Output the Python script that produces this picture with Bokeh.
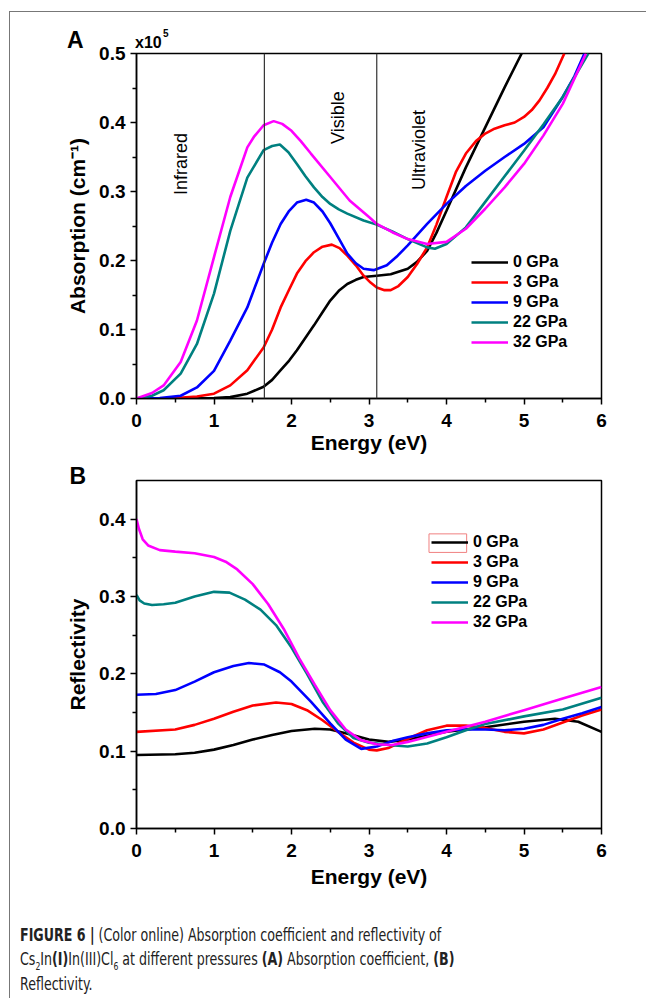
import math
from bokeh.plotting import figure
from bokeh.models import (Span, Label, Legend, LegendItem, FixedTicker,
                          PrintfTickFormatter, Div, BoxAnnotation, Range1d, Title)
from bokeh.layouts import column
from bokeh.embed import file_html
from bokeh.resources import INLINE

# ---------------- data: (A) absorption, units of 1e5 cm^-1 ----------------
pressures = ["0 GPa", "3 GPa", "9 GPa", "22 GPa", "32 GPa"]
colors = ["#000000", "#FF0000", "#0000FF", "#008080", "#FF00FF"]

abs_e_0 = [0, 0.5, 0.8, 1.0, 1.21, 1.43, 1.64, 1.75, 1.86, 1.97, 2.07, 2.18, 2.29, 2.4, 2.5, 2.61, 2.72, 2.83, 2.93, 3.1, 3.28, 3.5, 3.62, 3.75, 3.87, 4.0, 4.25, 4.5, 4.75, 4.97]
abs_0 = [0, 0, 0.0002, 0.0005, 0.002, 0.007, 0.017, 0.027, 0.041, 0.055, 0.07, 0.088, 0.106, 0.125, 0.142, 0.156, 0.166, 0.172, 0.176, 0.178, 0.18, 0.188, 0.198, 0.214, 0.24, 0.272, 0.335, 0.393, 0.451, 0.5]

abs_e_3 = [0, 0.5, 0.78, 1.0, 1.21, 1.43, 1.64, 1.75, 1.86, 1.97, 2.07, 2.18, 2.29, 2.4, 2.52, 2.62, 2.72, 2.83, 2.93, 3.02, 3.1, 3.2, 3.28, 3.38, 3.5, 3.62, 3.75, 3.87, 4.0, 4.12, 4.25, 4.38, 4.5, 4.62, 4.75, 4.88, 5.0, 5.1, 5.2, 5.3, 5.4, 5.52]
abs_3 = [0, 0.0005, 0.003, 0.007, 0.019, 0.041, 0.074, 0.1, 0.132, 0.158, 0.181, 0.199, 0.212, 0.22, 0.223, 0.218, 0.207, 0.193, 0.178, 0.168, 0.161, 0.157, 0.157, 0.163, 0.176, 0.195, 0.219, 0.252, 0.292, 0.328, 0.355, 0.373, 0.384, 0.391, 0.396, 0.4, 0.408, 0.418, 0.432, 0.45, 0.47, 0.5]

abs_e_9 = [0, 0.3, 0.57, 0.78, 1.0, 1.21, 1.43, 1.64, 1.75, 1.86, 1.97, 2.07, 2.19, 2.29, 2.4, 2.5, 2.61, 2.72, 2.83, 2.93, 3.06, 3.23, 3.37, 3.5, 3.75, 4.0, 4.25, 4.5, 4.75, 5.0, 5.25, 5.5, 5.65, 5.78]
abs_9 = [0, 0.0005, 0.004, 0.016, 0.04, 0.084, 0.132, 0.195, 0.226, 0.253, 0.272, 0.284, 0.288, 0.284, 0.271, 0.254, 0.232, 0.21, 0.196, 0.188, 0.186, 0.193, 0.207, 0.222, 0.253, 0.282, 0.308, 0.33, 0.35, 0.369, 0.393, 0.437, 0.467, 0.5]

abs_e_22 = [0, 0.2, 0.35, 0.57, 0.78, 1.0, 1.21, 1.43, 1.64, 1.75, 1.85, 1.96, 2.07, 2.18, 2.29, 2.4, 2.5, 2.61, 2.72, 2.93, 3.1, 3.3, 3.5, 3.75, 3.85, 4.0, 4.25, 4.5, 4.75, 5.0, 5.25, 5.5, 5.83]
abs_22 = [0, 0.004, 0.012, 0.036, 0.079, 0.152, 0.243, 0.32, 0.36, 0.366, 0.368, 0.357, 0.34, 0.322, 0.306, 0.292, 0.282, 0.274, 0.268, 0.258, 0.252, 0.242, 0.231, 0.219, 0.217, 0.224, 0.248, 0.285, 0.322, 0.359, 0.397, 0.437, 0.5]

abs_e_32 = [0, 0.2, 0.35, 0.57, 0.78, 1.0, 1.21, 1.43, 1.52, 1.64, 1.77, 1.88, 2.0, 2.12, 2.25, 2.5, 2.75, 3.0, 3.1, 3.3, 3.5, 3.75, 4.0, 4.25, 4.5, 4.75, 5.0, 5.25, 5.5, 5.8]
abs_32 = [0, 0.008, 0.019, 0.053, 0.113, 0.205, 0.292, 0.364, 0.38, 0.396, 0.402, 0.398, 0.388, 0.373, 0.355, 0.321, 0.287, 0.263, 0.253, 0.241, 0.231, 0.224, 0.227, 0.246, 0.275, 0.306, 0.34, 0.381, 0.427, 0.5]

# ---------------- data: (B) reflectivity ----------------
ref_e_0 = [0, 0.5, 0.75, 1.0, 1.25, 1.5, 1.75, 2.0, 2.3, 2.5, 2.75, 3.0, 3.25, 3.5, 3.75, 4.0, 4.5, 5.0, 5.4, 5.7, 6.0]
ref_0 = [0.095, 0.096, 0.098, 0.102, 0.108, 0.115, 0.121, 0.126, 0.129, 0.128, 0.122, 0.115, 0.112, 0.115, 0.12, 0.125, 0.131, 0.138, 0.142, 0.138, 0.125]

ref_e_3 = [0, 0.5, 0.75, 1.0, 1.25, 1.5, 1.8, 2.0, 2.2, 2.4, 2.6, 2.8, 3.0, 3.1, 3.25, 3.5, 3.75, 4.0, 4.25, 4.5, 4.75, 5.0, 5.25, 5.5, 5.75, 6.0]
ref_3 = [0.125, 0.128, 0.134, 0.142, 0.151, 0.159, 0.163, 0.161, 0.153, 0.14, 0.125, 0.111, 0.102, 0.101, 0.104, 0.116, 0.127, 0.133, 0.133, 0.13, 0.125, 0.123, 0.128, 0.137, 0.146, 0.154]

ref_e_9 = [0, 0.25, 0.5, 0.75, 1.0, 1.25, 1.45, 1.65, 1.85, 2.0, 2.25, 2.5, 2.7, 2.9, 3.1, 3.3, 3.5, 3.75, 4.0, 4.25, 4.5, 4.75, 5.0, 5.25, 5.5, 5.75, 6.0]
ref_9 = [0.173, 0.174, 0.179, 0.19, 0.202, 0.21, 0.214, 0.212, 0.202, 0.19, 0.164, 0.136, 0.115, 0.103, 0.106, 0.113, 0.118, 0.123, 0.127, 0.128, 0.128, 0.127, 0.129, 0.134, 0.142, 0.149, 0.157]

ref_e_22 = [0, 0.04, 0.1, 0.2, 0.35, 0.5, 0.75, 1.0, 1.2, 1.4, 1.6, 1.8, 2.0, 2.2, 2.4, 2.6, 2.8, 3.0, 3.25, 3.5, 3.75, 4.0, 4.25, 4.5, 5.0, 5.5, 6.0]
ref_22 = [0.302, 0.295, 0.291, 0.289, 0.29, 0.292, 0.3, 0.306, 0.305, 0.296, 0.283, 0.263, 0.234, 0.2, 0.164, 0.136, 0.117, 0.111, 0.108, 0.106, 0.11, 0.118, 0.127, 0.135, 0.145, 0.154, 0.169]

ref_e_32 = [0, 0.03, 0.08, 0.15, 0.3, 0.5, 0.75, 1.0, 1.15, 1.3, 1.5, 1.7, 1.9, 2.1, 2.3, 2.5, 2.7, 2.9, 3.1, 3.3, 3.5, 4.0, 4.5, 5.0, 5.5, 6.0]
ref_32 = [0.400, 0.388, 0.374, 0.366, 0.36, 0.358, 0.356, 0.351, 0.345, 0.335, 0.316, 0.29, 0.258, 0.22, 0.186, 0.153, 0.128, 0.114, 0.109, 0.108, 0.112, 0.125, 0.138, 0.153, 0.168, 0.183]

x_ticks = [0, 1, 2, 3, 4, 5, 6]
x_minor = [0.5, 1.5, 2.5, 3.5, 4.5, 5.5]
a_ticks = [0.0, 0.1, 0.2, 0.3, 0.4, 0.5]
a_minor = [0.05, 0.15, 0.25, 0.35, 0.45]
r_ticks = [0.0, 0.1, 0.2, 0.3, 0.4]
r_minor = [0.05, 0.15, 0.25, 0.35]
region_bounds = [1.65, 3.1]
region_names = ["Infrared", "Visible", "Ultraviolet"]

FONT = "Liberation Sans"


def style(p, yticks, yminor, ylabel_standoff, xlabel_standoff):
    p.background_fill_color = "white"
    p.border_fill_color = "white"
    p.outline_line_color = "black"
    p.outline_line_width = 1.5
    p.xgrid.visible = False
    p.ygrid.visible = False
    p.xaxis.ticker = FixedTicker(ticks=x_ticks, minor_ticks=x_minor)
    p.yaxis.ticker = FixedTicker(ticks=yticks, minor_ticks=yminor)
    p.yaxis.formatter = PrintfTickFormatter(format="%.1f")
    for ax in (p.xaxis[0], p.yaxis[0]):
        ax.axis_line_width = 1.5
        ax.axis_line_color = "black"
        ax.major_tick_line_width = 1.5
        ax.minor_tick_line_width = 1.5
        ax.major_tick_line_color = "black"
        ax.minor_tick_line_color = "black"
        ax.major_tick_in = 0
        ax.major_tick_out = 6
        ax.minor_tick_in = 0
        ax.minor_tick_out = 4
        ax.major_label_text_font = FONT
        ax.major_label_text_font_style = "bold"
        ax.major_label_text_font_size = "19px"
        ax.major_label_text_color = "black"
        ax.axis_label_text_font = FONT
        ax.axis_label_text_font_style = "bold"
        ax.axis_label_text_font_size = "21px"
        ax.axis_label_text_color = "black"
    p.xaxis.major_label_standoff = 9
    p.yaxis.axis_label_standoff = ylabel_standoff
    p.xaxis.axis_label_standoff = xlabel_standoff


def make_legend(p, renderers, loc):
    items = [LegendItem(label=lab, renderers=[r]) for lab, r in zip(pressures, renderers)]
    leg = Legend(items=items, location=loc, padding=0, margin=0, spacing=0,
                 glyph_width=37, glyph_height=20, label_height=20, label_standoff=5,
                 label_text_font=FONT, label_text_font_style="bold",
                 label_text_font_size="16px", label_text_color="black",
                 border_line_alpha=0, background_fill_alpha=0)
    p.add_layout(leg)


# ---------------- panel A header (panel letter and axis multiplier) ----------------
header_html = (
    "<div style=\"position:relative; width:636px; height:36px;\">"
    "<div style=\"position:absolute; left:57px; top:16.5px; line-height:23px; "
    "font-family:'Liberation Sans'; font-weight:bold; font-size:23px; color:#000;\">A</div>"
    "<div style=\"position:absolute; left:125px; top:22.5px; line-height:16px; "
    "font-family:'Liberation Sans'; font-weight:bold; font-size:16px; color:#000;\">x10</div>"
    "<div style=\"position:absolute; left:153px; top:17px; line-height:10px; "
    "font-family:'Liberation Sans'; font-weight:bold; font-size:10px; color:#000;\">5</div>"
    "</div>"
)
# the header overlaps the transparent top margin of panel A by 12 px
headA = Div(text=header_html, width=636, height=36, margin=(0, 0, -12, 0))

# ---------------- panel A ----------------
pA = figure(width=636, height=424, output_backend="svg", toolbar_location=None,
            x_range=Range1d(0, 6), y_range=Range1d(0, 0.5),
            min_border_left=126, min_border_right=45, min_border_top=17, min_border_bottom=62,
            x_axis_label="Energy (eV)", y_axis_label="Absorption (cm\u207b\u00b9)")
style(pA, a_ticks, a_minor, 7, 1)
pA.border_fill_alpha = 0

for b in region_bounds:
    pA.add_layout(Span(location=b, dimension="height", line_color="#333333", line_width=1.2))

abs_x = [abs_e_0, abs_e_3, abs_e_9, abs_e_22, abs_e_32]
abs_y = [abs_0, abs_3, abs_9, abs_22, abs_32]
rA = [pA.line(x, y, line_color=c, line_width=2.6) for x, y, c in zip(abs_x, abs_y, colors)]

for name, (lx, ly) in zip(region_names, [(0.58, 0.34), (2.6, 0.407), (3.64, 0.36)]):
    pA.add_layout(Label(x=lx, y=ly, text=name, angle=math.pi / 2, text_align="center",
                        text_baseline="middle", text_font=FONT, text_font_size="18px",
                        text_color="black"))

make_legend(pA, rA, (335, 46))

# ---------------- panel B ----------------
pB = figure(width=636, height=450, output_backend="svg", toolbar_location=None,
            x_range=Range1d(0, 6), y_range=Range1d(0, 0.45),
            min_border_left=122, min_border_right=45, min_border_top=20, min_border_bottom=82,
            x_axis_label="Energy (eV)", y_axis_label="Reflectivity")
style(pB, r_ticks, r_minor, 7, 5)

ref_x = [ref_e_0, ref_e_3, ref_e_9, ref_e_22, ref_e_32]
ref_y = [ref_0, ref_3, ref_9, ref_22, ref_32]
rB = [pB.line(x, y, line_color=c, line_width=2.6) for x, y, c in zip(ref_x, ref_y, colors)]

pB.add_layout(BoxAnnotation(left=3.774, right=4.26, bottom=0.357, top=0.381,
                            fill_alpha=0, line_color="#F08080", line_width=1, line_alpha=1))
make_legend(pB, rB, (295, 196))

pB.add_layout(Title(text="B", align="left", offset=-67, standoff=-16, text_font=FONT,
                    text_font_style="bold", text_font_size="23px", text_color="black"), "above")

# ---------------- caption ----------------
caption_html = (
    "<div style=\"position:relative; width:636px; height:88px; overflow:hidden;\">"
    "<div style=\"position:absolute; left:10px; top:0px; padding-top:13px; white-space:nowrap; "
    "font-family:'Liberation Sans Narrow','DejaVu Sans Condensed',sans-serif; "
    "font-size:18px; line-height:24.3px; color:#222; transform:scaleX(0.78); transform-origin:0 0;\">"
    "<b>FIGURE 6 |</b> (Color online) Absorption coefficient and reflectivity of<br>"
    "Cs<sub style=\"font-size:11px; line-height:0;\">2</sub>In<b>(I)</b>In(III)Cl"
    "<sub style=\"font-size:11px; line-height:0;\">6</sub> at different pressures "
    "<b>(A)</b> Absorption coefficient, <b>(B)</b><br>"
    "Reflectivity."
    "</div></div>"
)
cap = Div(text=caption_html, width=636, height=88, margin=(0, 0, 0, 0))

layout = column(headA, pA, pB, cap, spacing=0, margin=(11, 0, 0, 9),
                styles={"border-top": "1px solid #777777", "border-left": "1px solid #777777"})

open("out.html", "w").write(file_html(layout, INLINE))
